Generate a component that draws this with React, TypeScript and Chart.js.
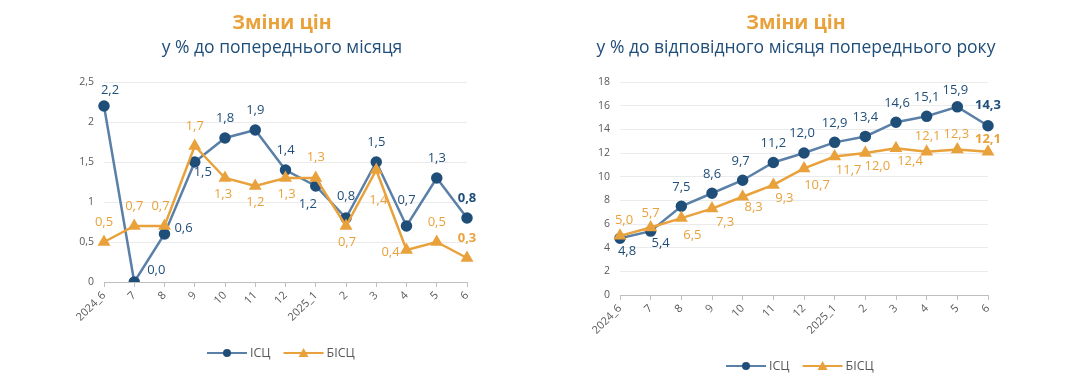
import React, { useEffect, useRef } from "react";
import { Chart, registerables } from "chart.js";

Chart.register(...registerables);

// ---------- data ----------
const categories = ["2024_6", "7", "8", "9", "10", "11", "12", "2025_1", "2", "3", "4", "5", "6"];
const seriesNames = ["ІСЦ", "БІСЦ"];
const momIsc = [2.2, 0.0, 0.6, 1.5, 1.8, 1.9, 1.4, 1.2, 0.8, 1.5, 0.7, 1.3, 0.8];
const momBisc = [0.5, 0.7, 0.7, 1.7, 1.3, 1.2, 1.3, 1.3, 0.7, 1.4, 0.4, 0.5, 0.3];
const yoyIsc = [4.8, 5.4, 7.5, 8.6, 9.7, 11.2, 12.0, 12.9, 13.4, 14.6, 15.1, 15.9, 14.3];
const yoyBisc = [5.0, 5.7, 6.5, 7.3, 8.3, 9.3, 10.7, 11.7, 12.0, 12.4, 12.1, 12.3, 12.1];
const titleText = "Зміни цін";
const momSubtitle = "у % до попереднього місяця";
const yoySubtitle = "у % до відповідного місяця попереднього року";
const momAxis = { min: 0, max: 2.5, step: 0.5 };
const yoyAxis = { min: 0, max: 18, step: 2 };

// ---------- label placement (style) ----------
const momIscOffsets = [[6, -16], [22, -12], [19, -6], [8, 10], [0, -20], [0, -20], [0, -20], [-8, 18], [0, -22], [0, -20], [0, -26], [0, -20], [0, -20]];
const momBiscOffsets = [[0, -20], [0, -20], [-4, -20], [0, -20], [-2, 16], [0, 16], [1, 16], [0, -21], [1, 16], [2, 30], [-16, 2], [0, -20], [0, -20]];
const yoyIscOffsets = [[7, 13], [10, 12], [0, -19], [0, -19], [-2, -19], [0, -19], [-2, -20], [0, -19], [0, -19], [1, -19], [0, -19], [-2, -17], [0, -20]];
const yoyBiscOffsets = [[4, -16], [0, -14], [11, 17], [13, 14], [11, 11], [11, 13], [13, 17], [14, 14], [12, 13], [14, 13], [1, -16], [-1, -15], [0, -13]];

// ---------- style ----------
const FONT = "'Open Sans', 'Noto Sans', sans-serif";
const NAVY = "#1F4E79";
const STEEL = "#5B80A8";
const ORANGE = "#E9A23B";
const GREY = "#595959";

const fmt = (v: number, digits = 1) => v.toFixed(digits).replace(".", ",");

const pointLabelPlugin = {
  id: "pointLabels",
  afterDatasetsDraw(chart: any, _args: any, opts: any) {
    const ctx = chart.ctx;
    chart.data.datasets.forEach((ds: any, di: number) => {
      const meta = chart.getDatasetMeta(di);
      const offs = opts.offsets[di];
      const n = ds.data.length;
      meta.data.forEach((el: any, i: number) => {
        const v = ds.data[i];
        const [dx, dy] = offs[i];
        ctx.save();
        ctx.font = `${i === n - 1 ? "bold " : ""}13px ${FONT}`;
        ctx.fillStyle = opts.colors[di];
        ctx.textAlign = "center";
        ctx.textBaseline = "middle";
        ctx.fillText(fmt(v), el.x + dx, el.y + dy);
        ctx.restore();
      });
    });
  },
};

const headerLegendPlugin = {
  id: "headerLegend",
  afterDraw(chart: any, _args: any, opts: any) {
    const ctx = chart.ctx;
    ctx.save();
    ctx.textAlign = "center";
    ctx.textBaseline = "middle";
    ctx.fillStyle = ORANGE;
    ctx.font = `bold 19.5px ${FONT}`;
    ctx.fillText(opts.title, opts.titleX, 23);
    ctx.fillStyle = NAVY;
    ctx.font = `17.5px ${FONT}`;
    ctx.fillText(opts.subtitle, opts.titleX, 48);

    // legend
    const ly = opts.legendY;
    let x = opts.legendX;
    const items = [
      { name: seriesNames[0], line: STEEL, mark: NAVY, tri: false },
      { name: seriesNames[1], line: ORANGE, mark: ORANGE, tri: true },
    ];
    ctx.font = `12.5px ${FONT}`;
    ctx.textAlign = "left";
    items.forEach((it) => {
      ctx.strokeStyle = it.line;
      ctx.lineWidth = 2;
      ctx.beginPath();
      ctx.moveTo(x, ly);
      ctx.lineTo(x + 40, ly);
      ctx.stroke();
      ctx.fillStyle = it.mark;
      ctx.beginPath();
      if (it.tri) {
        ctx.moveTo(x + 20, ly - 5);
        ctx.lineTo(x + 25, ly + 4);
        ctx.lineTo(x + 15, ly + 4);
        ctx.closePath();
      } else {
        ctx.arc(x + 20, ly, 4, 0, Math.PI * 2);
      }
      ctx.fill();
      ctx.fillStyle = GREY;
      ctx.fillText(it.name, x + 43, ly);
      x += 43 + ctx.measureText(it.name).width + 13;
    });
    ctx.restore();
  },
};

type PanelProps = {
  width: number;
  left: number;
  isc: number[];
  bisc: number[];
  axis: { min: number; max: number; step: number };
  subtitle: string;
  offsets: number[][][];
  padding: { left: number; right: number; top: number; bottom: number };
  titleX: number;
  legendX: number;
  legendY: number;
  tickDigits: number | null;
};

function Panel(p: PanelProps) {
  const ref = useRef<HTMLCanvasElement | null>(null);
  useEffect(() => {
    if (!ref.current) return;
    const chart = new Chart(ref.current, {
      type: "line",
      data: {
        labels: categories,
        datasets: [
          {
            label: seriesNames[0],
            data: p.isc,
            borderColor: STEEL,
            borderWidth: 2.5,
            pointBackgroundColor: NAVY,
            pointBorderColor: NAVY,
            pointRadius: 4.5,
            pointStyle: "circle",
            tension: 0,
            order: 1,
          },
          {
            label: seriesNames[1],
            data: p.bisc,
            borderColor: ORANGE,
            borderWidth: 2.5,
            pointBackgroundColor: ORANGE,
            pointBorderColor: ORANGE,
            pointRadius: 5,
            pointStyle: "triangle",
            tension: 0,
            order: 0,
          },
        ],
      },
      options: {
        responsive: false,
        animation: false,
        layout: { padding: p.padding },
        plugins: {
          legend: { display: false },
          title: { display: false },
          tooltip: { enabled: false },
          pointLabels: { offsets: p.offsets, colors: [NAVY, ORANGE] },
          headerLegend: {
            title: titleText,
            subtitle: p.subtitle,
            titleX: p.titleX,
            legendX: p.legendX,
            legendY: p.legendY,
          },
        } as any,
        scales: {
          x: {
            offset: false,
            grid: {
              display: true,
              drawOnChartArea: false,
              drawTicks: true,
              tickLength: 5,
              color: "#BFBFBF",
            },
            border: { display: true, color: "#BFBFBF", width: 1 },
            ticks: {
              maxRotation: 45,
              minRotation: 45,
              autoSkip: false,
              padding: 2,
              color: GREY,
              font: { family: FONT, size: 11 },
            },
            afterFit: (s: any) => {
              s.height = 40;
            },
          },
          y: {
            min: p.axis.min,
            max: p.axis.max,
            ticks: {
              stepSize: p.axis.step,
              padding: 10,
              color: GREY,
              font: { family: FONT, size: 10.5 },
              callback: (v: any) => (p.tickDigits === null ? String(v) : String(v).replace(".", ",")),
            },
            grid: { color: "#EBEBEB", drawTicks: false, lineWidth: 1 },
            border: { display: false },
            afterFit: (s: any) => {
              s.width = 30;
            },
          },
        },
      },
      plugins: [pointLabelPlugin, headerLegendPlugin],
    });
    return () => chart.destroy();
  }, []);
  return (
    <canvas
      ref={ref}
      width={p.width}
      height={380}
      style={{ position: "absolute", left: p.left, top: 0, width: p.width, height: 380 }}
    />
  );
}

export default function App() {
  return (
    <div style={{ position: "absolute", left: 0, top: 0, width: 1065, height: 380, background: "#fff" }}>
      <Panel
        width={530}
        left={0}
        isc={momIsc}
        bisc={momBisc}
        axis={momAxis}
        subtitle={momSubtitle}
        offsets={[momIscOffsets, momBiscOffsets]}
        padding={{ left: 74, right: 63, top: 82, bottom: 58 }}
        titleX={282}
        legendX={207}
        legendY={353}
        tickDigits={1}
      />
      <Panel
        width={535}
        left={530}
        isc={yoyIsc}
        bisc={yoyBisc}
        axis={yoyAxis}
        subtitle={yoySubtitle}
        offsets={[yoyIscOffsets, yoyBiscOffsets]}
        padding={{ left: 60, right: 77, top: 82, bottom: 45 }}
        titleX={266}
        legendX={196}
        legendY={366}
        tickDigits={null}
      />
    </div>
  );
}
